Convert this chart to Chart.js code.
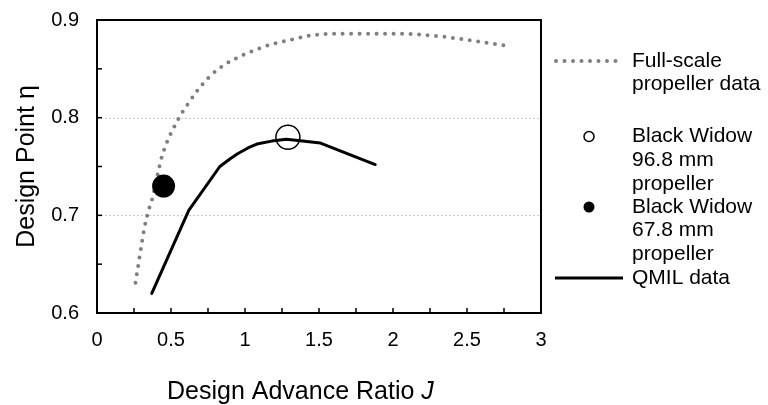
<!DOCTYPE html>
<html>
<head>
<meta charset="utf-8">
<script src="https://cdn.jsdelivr.net/npm/chart.js@4.4.1/dist/chart.umd.min.js"></script>
<style>
html,body{margin:0;padding:0;background:#fff;}
canvas{display:block;}
</style>
</head>
<body>
<canvas id="c" width="768" height="405"></canvas>
<script>
// ---- data ----
const fullScaleJ   = [0.26,0.28,0.30,0.32,0.35,0.37,0.41,0.44,0.54,0.61,0.68,0.76,0.86,0.97,1.08,1.20,1.32,1.44,1.64,1.95,2.19,2.44,2.75];
const fullScaleEta = [0.631,0.650,0.669,0.687,0.706,0.715,0.742,0.761,0.796,0.813,0.828,0.842,0.854,0.863,0.870,0.876,0.880,0.884,0.886,0.886,0.885,0.881,0.874];
const qmilJ   = [0.37,0.62,0.83,0.90,0.95,1.02,1.08,1.18,1.28,1.51,1.88];
const qmilEta = [0.620,0.705,0.750,0.758,0.763,0.769,0.773,0.776,0.778,0.774,0.752];
const bw968J = [1.29];   const bw968Eta = [0.780];
const bw678J = [0.45];   const bw678Eta = [0.730];
const xTickValues = [0,0.5,1,1.5,2,2.5,3];
const yTickValues = [0.6,0.7,0.8,0.9];
const legendLabels = [
  ["Full-scale","propeller data"],
  ["Black Widow","96.8 mm","propeller"],
  ["Black Widow","67.8 mm","propeller"],
  ["QMIL data"]
];
const xTitle = "Design Advance Ratio ";
const xTitleItalic = "J";
const yTitle = "Design Point η";

const FONT = "'Liberation Sans', Arial, sans-serif";
const pts = (xs, ys) => xs.map((x,i)=>({x:x,y:ys[i]}));

const framePlugin = {
  id:'frame',
  beforeDatasetsDraw(chart){
    const {ctx, chartArea:a, scales:{x,y}} = chart;
    ctx.save();
    ctx.strokeStyle = '#c8c8c8'; ctx.lineWidth = 1; ctx.setLineDash([2,2]);
    [0.7,0.8].forEach(v=>{
      const py = Math.round(y.getPixelForValue(v))+0.5;
      ctx.beginPath(); ctx.moveTo(a.left, py); ctx.lineTo(a.right, py); ctx.stroke();
    });
    ctx.setLineDash([]);
    ctx.restore();
  },
  afterDatasetsDraw(chart){
    const {ctx, chartArea:a, scales:{x,y}} = chart;
    ctx.save();
    ctx.strokeStyle = '#000';
    ctx.lineWidth = 2;
    ctx.strokeRect(a.left, a.top, a.right-a.left, a.bottom-a.top);
    ctx.lineWidth = 1.5;
    for (let v=0.25; v<3; v+=0.25){
      const px = x.getPixelForValue(v);
      ctx.beginPath(); ctx.moveTo(px, a.bottom); ctx.lineTo(px, a.bottom-5); ctx.stroke();
    }
    for (let v=0.65; v<0.899; v+=0.05){
      const py = y.getPixelForValue(v);
      ctx.beginPath(); ctx.moveTo(a.left, py); ctx.lineTo(a.left+5, py); ctx.stroke();
    }
    // legend
    ctx.font = '21px ' + FONT;
    ctx.fillStyle = '#000';
    ctx.textBaseline = 'middle';
    ctx.textAlign = 'left';
    const tx = 632, lh = 23.7;
    const rows = [61, 136.5, 207, 278];
    legendLabels.forEach((lines,i)=>{
      lines.forEach((t,j)=> ctx.fillText(t, tx, rows[i]+j*lh));
    });
    ctx.strokeStyle = '#808080'; ctx.lineWidth = 4; ctx.lineCap = 'round';
    ctx.setLineDash([0,8.5]);
    ctx.beginPath(); ctx.moveTo(556, 61); ctx.lineTo(620, 61); ctx.stroke();
    ctx.setLineDash([]);
    ctx.strokeStyle = '#000'; ctx.lineWidth = 1.5;
    ctx.beginPath(); ctx.arc(589, 136.5, 5, 0, Math.PI*2); ctx.stroke();
    ctx.fillStyle = '#000';
    ctx.beginPath(); ctx.arc(589, 207, 5.5, 0, Math.PI*2); ctx.fill();
    ctx.lineWidth = 3; ctx.lineCap = 'butt';
    ctx.beginPath(); ctx.moveTo(555, 278); ctx.lineTo(623, 278); ctx.stroke();
    // axis titles
    const TS = 25;
    ctx.textAlign = 'left';
    ctx.textBaseline = 'alphabetic';
    ctx.font = TS + 'px ' + FONT;
    const w1 = ctx.measureText(xTitle).width;
    ctx.font = 'italic ' + TS + 'px ' + FONT;
    const w2 = ctx.measureText(xTitleItalic).width;
    const sx = 167;
    ctx.font = TS + 'px ' + FONT;
    ctx.fillText(xTitle, sx, 399);
    ctx.font = 'italic ' + TS + 'px ' + FONT;
    ctx.fillText(xTitleItalic, sx + w1, 399);
    ctx.translate(34, (a.top+a.bottom)/2);
    ctx.rotate(-Math.PI/2);
    ctx.font = TS + 'px ' + FONT;
    ctx.textAlign = 'center';
    ctx.fillText(yTitle, 0, 0);
    ctx.restore();
  }
};

new Chart(document.getElementById('c'), {
  type:'scatter',
  data:{
    datasets:[
      {label:'Full-scale propeller data', data:pts(fullScaleJ, fullScaleEta), showLine:true,
       borderColor:'#808080', borderWidth:4, borderDash:[0,8.5], borderCapStyle:'round',
       cubicInterpolationMode:'monotone', pointRadius:0, fill:false, order:3},
      {label:'QMIL data', data:pts(qmilJ, qmilEta), showLine:true, borderColor:'#000', borderWidth:3,
       borderJoinStyle:'round', borderCapStyle:'round', tension:0, pointRadius:0, fill:false, order:2},
      {label:'Black Widow 96.8 mm propeller', data:pts(bw968J, bw968Eta), pointRadius:12,
       pointBorderWidth:1.5, pointBorderColor:'#000', pointBackgroundColor:'rgba(0,0,0,0)', order:1},
      {label:'Black Widow 67.8 mm propeller', data:pts(bw678J, bw678Eta), pointRadius:11.5,
       pointBorderWidth:0, pointBackgroundColor:'#000', pointBorderColor:'#000', order:0}
    ]
  },
  options:{
    responsive:false, animation:false, devicePixelRatio:1,
    layout:{padding:{left:0, right:227, top:20, bottom:0}},
    plugins:{legend:{display:false}, tooltip:{enabled:false}},
    scales:{
      x:{type:'linear', min:0, max:3,
         afterBuildTicks(s){ s.ticks = xTickValues.map(v=>({value:v})); },
         afterFit(s){ s.height = 92; s.paddingLeft = 0; s.paddingRight = 0; },
         grid:{display:false, drawTicks:false}, border:{display:false},
         ticks:{color:'#000', font:{family:FONT, size:20}, padding:15, maxRotation:0,
                callback:v=>String(v)}},
      y:{type:'linear', min:0.6, max:0.9,
         afterBuildTicks(s){ s.ticks = yTickValues.map(v=>({value:v})); },
         afterFit(s){ s.width = 97; s.paddingTop = 0; s.paddingBottom = 0; },
         grid:{display:false, drawTicks:false}, border:{display:false},
         ticks:{color:'#000', font:{family:FONT, size:20}, padding:18,
                callback:v=>v.toFixed(1)}}
    }
  },
  plugins:[framePlugin]
});
</script>
</body>
</html>
